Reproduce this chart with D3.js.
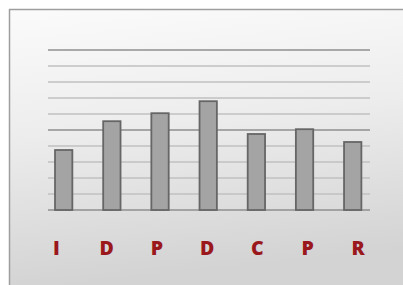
<!DOCTYPE html>
<html><head><meta charset="utf-8">
<script src="https://cdn.jsdelivr.net/npm/d3@7"></script>
<style>html,body{margin:0;padding:0;background:#fff;overflow:hidden}</style>
</head><body>
<script>
const categories = ["I","D","P","D","C","P","R"];
const values = [3.75, 5.55, 6.05, 6.8, 4.75, 5.05, 4.25];
const gridTicks = [0,1,2,3,4,5,6,7,8,9,10];
const majorTicks = [0,5,10];

const W = 403, H = 285;
const svg = d3.select("body").append("svg").attr("width", W).attr("height", H);
const defs = svg.append("defs");
const g = defs.append("linearGradient").attr("id","bg").attr("x1",0).attr("y1",0).attr("x2",0.15).attr("y2",1);
g.append("stop").attr("offset","0%").attr("stop-color","#fbfbfb");
g.append("stop").attr("offset","45%").attr("stop-color","#ededed");
g.append("stop").attr("offset","100%").attr("stop-color","#d3d3d3");

svg.append("rect").attr("x",9).attr("y",9).attr("width",W-9).attr("height",H-9).attr("fill","url(#bg)");
svg.append("line").attr("x1",9).attr("x2",W).attr("y1",9.5).attr("y2",9.5).attr("stroke","#9e9e9e").attr("stroke-width",1.5);
svg.append("line").attr("x1",9.5).attr("x2",9.5).attr("y1",9).attr("y2",H).attr("stroke","#9e9e9e").attr("stroke-width",1.5);

const y = d3.scaleLinear().domain([0,10]).range([210,50]);
const x = d3.scaleBand().domain(d3.range(categories.length)).range([39.6,376.8]).paddingInner(0.64).paddingOuter(0.32);
const xl = d3.scalePoint().domain(d3.range(categories.length)).range([56.3,358]);

svg.append("g").selectAll("line").data(gridTicks).join("line")
  .attr("x1",48).attr("x2",370)
  .attr("y1",d=>y(d)).attr("y2",d=>y(d))
  .attr("stroke",d=>majorTicks.includes(d)?"#8f8f8f":"#c0c0c0")
  .attr("stroke-width",d=>majorTicks.includes(d)?1.5:1.3);

svg.append("g").selectAll("rect").data(values).join("rect")
  .attr("x",(d,i)=>x(i)).attr("width",x.bandwidth())
  .attr("y",d=>y(d)).attr("height",d=>y(0)-y(d))
  .attr("fill","#a4a4a4").attr("stroke","#666").attr("stroke-width",1.8);

svg.append("g").selectAll("text").data(categories).join("text")
  .attr("x",(d,i)=>xl(i)).attr("y",255)
  .attr("text-anchor","middle")
  .attr("font-family","'Open Sans', sans-serif").attr("font-weight","800").attr("font-size",19.5)
  .attr("fill","#9a181b")
  .text(d=>d);
</script>
</body></html>
